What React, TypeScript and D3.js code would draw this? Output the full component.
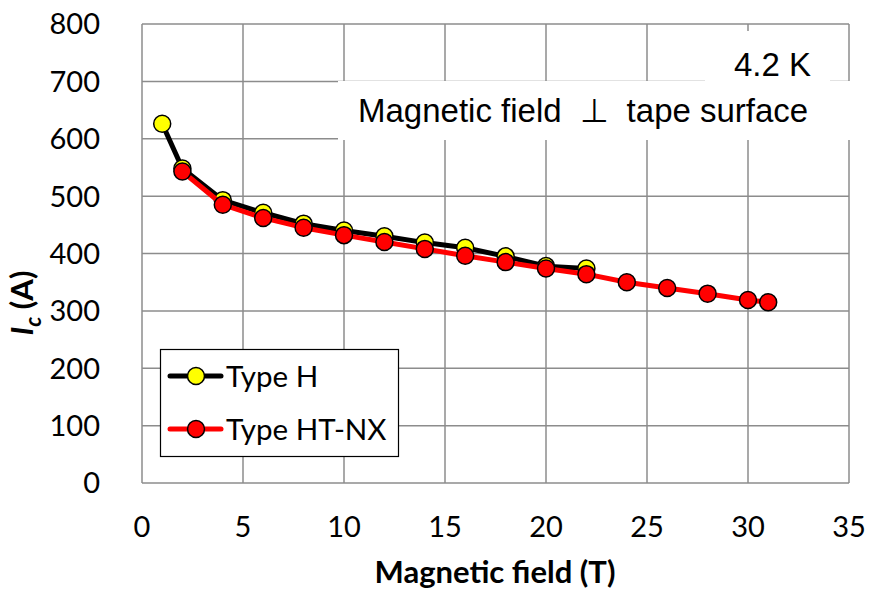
import * as d3 from 'd3'

// Type H (black line, yellow markers)
const fieldH = [1, 2, 4, 6, 8, 10, 12, 14, 16, 18, 20, 22]
const icH = [626, 548, 493, 471, 452, 440, 430, 419, 410, 395, 378, 374]

// Type HT-NX (red line, red markers)
const fieldNX = [2, 4, 6, 8, 10, 12, 14, 16, 18, 20, 22, 24, 26, 28, 30, 31]
const icNX = [543, 485, 462, 445, 432, 420, 408, 396, 385, 374, 364, 350, 340, 330, 319, 315]

const xTicks = [0, 5, 10, 15, 20, 25, 30, 35]
const yTicks = [0, 100, 200, 300, 400, 500, 600, 700, 800]

const series = [
  { name: 'Type H', xs: fieldH, ys: icH, line: '#000000', fill: '#ffff00' },
  { name: 'Type HT-NX', xs: fieldNX, ys: icNX, line: '#ff0000', fill: '#ff0000' },
]

const W = 869
const H = 590
const left = 142
const right = 849
const top = 24
const bottom = 483

const sans = 'Lato, "Open Sans", sans-serif'
const arial = '"Liberation Sans", Arial, sans-serif'
const grid = '#8c8c8c'

export default function App() {
  const x = d3.scaleLinear().domain([0, 35]).range([left, right])
  const y = d3.scaleLinear().domain([0, 800]).range([bottom, top])
  const line = d3.line<[number, number]>().x(d => x(d[0])).y(d => y(d[1]))

  return (
    <svg width={W} height={H} style={{ position: 'absolute', left: 0, top: 0, background: '#fff' }}>
      {/* grid */}
      {xTicks.map(t => (
        <line key={'gx' + t} x1={x(t)} x2={x(t)} y1={top} y2={bottom} stroke={grid} strokeWidth={1.5} />
      ))}
      {yTicks.map(t => (
        <line key={'gy' + t} x1={left} x2={right} y1={y(t)} y2={y(t)} stroke={grid} strokeWidth={1.5} />
      ))}

      {/* tick labels */}
      {yTicks.map(t => (
        <text key={'ty' + t} x={100} y={y(t)} dy="0.36em" textAnchor="end" fontFamily={sans} fontSize={29} fill="#000">
          {t}
        </text>
      ))}
      {xTicks.map(t => (
        <text key={'tx' + t} x={x(t)} y={537} textAnchor="middle" fontFamily={sans} fontSize={29} fill="#000">
          {t}
        </text>
      ))}

      {/* axis titles */}
      <text x={495} y={583} textAnchor="middle" fontFamily={sans} fontSize={31} fontWeight="bold">
        Magnetic field (T)
      </text>
      <text transform="translate(33,303) rotate(-90)" textAnchor="middle" fontFamily={sans} fontSize={31} fontWeight="bold">
        <tspan fontStyle="italic">I</tspan>
        <tspan fontStyle="italic" fontSize={22} dy={8}>c</tspan>
        <tspan dy={-8}> (A)</tspan>
      </text>

      {/* annotations */}
      <rect x={705} y={31} width={125} height={50} fill="#fff" />
      <text x={811} y={76} textAnchor="end" fontFamily={arial} fontSize={33}>4.2 K</text>
      <rect x={338} y={81} width={520} height={59} fill="#fff" />
      <text x={358} y={122} fontFamily={arial} fontSize={33}>
        <tspan>Magnetic field</tspan>
        <tspan dx={18}>⊥</tspan>
        <tspan dx={18}>tape surface</tspan>
      </text>

      {/* series */}
      {series.map(s => {
        const pts = s.xs.map((v, i) => [v, s.ys[i]] as [number, number])
        return (
          <g key={s.name}>
            <path d={line(pts) ?? ''} fill="none" stroke={s.line} strokeWidth={5} strokeLinejoin="round" />
            {pts.map((p, i) => (
              <circle key={i} cx={x(p[0])} cy={y(p[1])} r={8.5} fill={s.fill} stroke="#000" strokeWidth={1.5} />
            ))}
          </g>
        )
      })}

      {/* legend */}
      <rect x={160.5} y={349.5} width={238} height={107} fill="#fff" stroke="#000" strokeWidth={1.2} />
      {series.map((s, i) => {
        const ly = 376 + i * 53
        return (
          <g key={'lg' + s.name}>
            <line x1={170} x2={221} y1={ly} y2={ly} stroke={s.line} strokeWidth={5} strokeLinecap="round" />
            <circle cx={196} cy={ly} r={8.5} fill={s.fill} stroke="#000" strokeWidth={1.5} />
            <text x={226} y={ly} dy="0.36em" fontFamily={sans} fontSize={29.5}>{s.name}</text>
          </g>
        )
      })}
    </svg>
  )
}
